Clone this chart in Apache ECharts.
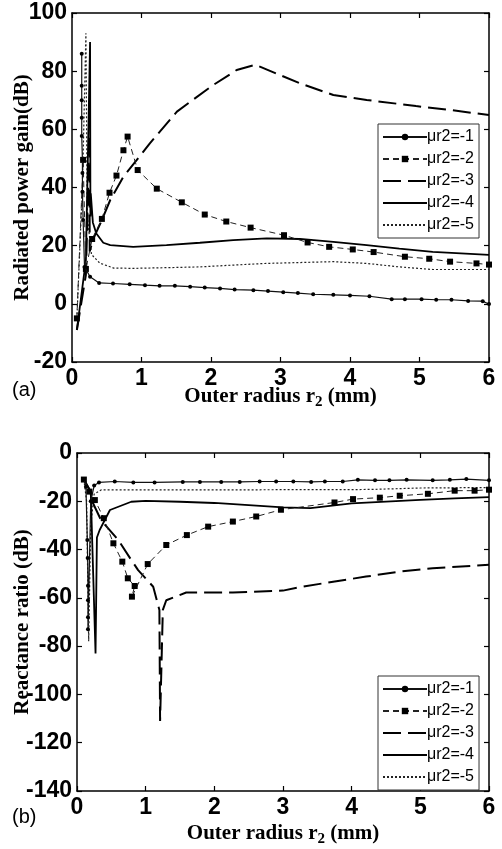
<!DOCTYPE html>
<html>
<head>
<meta charset="utf-8">
<script src="https://cdn.jsdelivr.net/npm/echarts@6/dist/echarts.min.js"></script>
<style>
    html, body { margin: 0; padding: 0; background: #fff; }
    #chart { width: 502px; height: 849px; }
</style>
</head>
<body>
<div id="chart"></div>
<script type="text/javascript">
    // series names
    var names = ['μr2=-1', 'μr2=-2', 'μr2=-3', 'μr2=-4', 'μr2=-5'];
    var xTicks = [0, 1, 2, 3, 4, 5, 6];

    // (a) radiated power gain (dB), [r2 mm, dB]
    var gain1 = [[0.14, 86], [0.14, 75], [0.14, 70], [0.14, 64], [0.14, 57.7], [0.15, 49.5], [0.15, 45], [0.15, 38.5],
        [0.16, 28.8], [0.18, 12.7], [0.26, 9.3], [0.39, 7.2], [0.59, 7.0], [0.83, 6.7], [1.05, 6.4], [1.26, 6.2],
        [1.48, 6.2], [1.70, 5.9], [1.91, 5.6], [2.13, 5.3], [2.34, 4.9], [2.61, 4.7], [2.82, 4.4], [3.04, 4.0],
        [3.25, 3.7], [3.47, 3.3], [3.76, 3.1], [4.0, 2.9], [4.28, 2.6], [4.6, 1.6], [4.79, 1.6], [5.03, 1.6],
        [5.24, 1.4], [5.46, 1.4], [5.70, 1.0], [5.91, 0.9], [6.0, -0.1]];
    var gain2 = [[0.07, -5], [0.16, 49.5], [0.2, 12], [0.29, 22.3], [0.43, 29.2], [0.54, 38.2], [0.64, 44.1],
        [0.74, 52.8], [0.80, 57.5], [0.945, 46], [1.22, 39.6], [1.58, 34.9], [1.91, 30.7], [2.22, 28.3],
        [2.57, 26.2], [3.05, 23.6], [3.39, 21.1], [3.70, 19.6], [4.04, 18.7], [4.34, 17.8], [4.79, 16.2],
        [5.14, 15.5], [5.44, 14.5], [5.82, 13.9], [6.0, 13.5]];
    var gain3 = [[0.07, -9], [0.2, 10], [0.25, 58], [0.255, 18], [0.3, 22], [0.43, 28.8], [0.55, 35.7],
        [0.74, 43.7], [1.0, 51.5], [1.12, 55.2], [1.51, 66.1], [2.03, 75.2], [2.37, 80.4], [2.64, 82.2],
        [3.28, 75.8], [3.76, 71.8], [4.24, 70.1], [4.95, 68], [5.43, 66.7], [6.0, 64.9]];
    var gain4 = [[0.07, -9], [0.2, 15], [0.26, 90], [0.265, 30], [0.27, 38], [0.3, 28], [0.35, 24.2],
        [0.45, 21], [0.55, 20.2], [0.88, 19.6], [1.36, 20.2], [1.84, 21], [2.32, 21.9], [2.80, 22.5],
        [3.28, 22.3], [3.76, 21.3], [4.24, 20.2], [4.71, 19], [5.19, 17.9], [6.0, 16.8]];
    var gain5 = [[0.07, -5], [0.15, 40], [0.2, 93], [0.22, 30], [0.28, 17], [0.4, 14], [0.6, 12.3],
        [0.88, 12.2], [1.3, 12.4], [1.84, 12.7], [2.3, 13.3], [2.8, 13.9], [3.28, 14.2], [3.76, 14.5],
        [4.24, 13.9], [4.71, 12.7], [5.19, 11.8], [6.0, 11.8]];

    // (b) reactance ratio (dB)
    var react1 = [[0.1, -11], [0.13, -14], [0.15, -36], [0.155, -43.5], [0.16, -55], [0.16, -61], [0.16, -68],
        [0.16, -73], [0.2, -20], [0.25, -13.5], [0.32, -12.2], [0.55, -11.8], [0.82, -12.2], [1.13, -12.2],
        [1.54, -12], [1.79, -12], [2.1, -12], [2.37, -12], [2.66, -11.8], [2.9, -11.8], [3.15, -11.8],
        [3.41, -12], [3.61, -11.8], [3.87, -11.8], [4.09, -11.1], [4.34, -11.3], [4.55, -11.3], [4.8, -11.1],
        [5.18, -11.3], [5.43, -11.1], [5.67, -10.8], [6.0, -11.3]];
    var react2 = [[0.1, -11], [0.18, -16], [0.26, -19.5], [0.39, -27], [0.53, -37.4], [0.66, -45],
        [0.74, -51.9], [0.84, -55.1], [0.80, -59.5], [1.03, -46], [1.30, -38.1], [1.60, -34], [1.91, -30.5],
        [2.27, -28.4], [2.61, -26.3], [2.97, -23.5], [3.75, -20.5], [4.02, -19.1], [4.41, -18.5],
        [4.70, -17.7], [5.11, -16.9], [5.50, -15.6], [5.79, -15.6], [6.0, -15.2]];
    var react3 = [[0.1, -11], [0.2, -16], [0.22, -20], [0.35, -27.8], [0.6, -36], [0.79, -44.3],
        [0.89, -48.5], [1.11, -55.4], [1.2, -65], [1.21, -111], [1.25, -65], [1.30, -61], [1.59, -57.8],
        [2.27, -57.8], [3.0, -57], [3.24, -55.6], [3.73, -53.3], [4.21, -51.2], [4.70, -49.1],
        [5.18, -47.7], [6.0, -46.3]];
    var react4 = [[0.1, -11], [0.2, -16], [0.27, -83], [0.29, -35], [0.33, -31.9], [0.48, -23.6],
        [0.79, -20.2], [1.0, -19.8], [1.5, -20.2], [2.0, -20.7], [2.5, -21.6], [3.0, -22.5], [3.4, -22.8],
        [4.0, -20.9], [4.5, -20.1], [5.0, -19.4], [5.5, -18.8], [6.0, -18.3]];
    var react5 = [[0.1, -11], [0.14, -20], [0.17, -78], [0.2, -30], [0.25, -17], [0.35, -15.3],
        [1.0, -15.3], [2.0, -15.3], [3.0, -15.2], [4.0, -15.2], [4.4, -15], [5.0, -14.5], [6.0, -14.3]];

    var gainData = [gain1, gain2, gain3, gain4, gain5];
    var reactData = [react1, react2, react3, react4, react5];

    var tickFont = {color: '#000', fontFamily: 'Liberation Sans, Arial', fontWeight: 'bold', fontSize: 23};
    var nameFont = {color: '#000', fontFamily: 'Liberation Serif, Times New Roman', fontWeight: 'bold', fontSize: 21};

    var lineStyles = [
        {type: 'solid', width: 1.2, color: '#111'},
        {type: [6, 4], width: 1, color: '#222'},
        {type: [18, 7], width: 2, color: '#000'},
        {type: 'solid', width: 1.8, color: '#000'},
        {type: [2, 2], width: 1.2, color: '#222'}
    ];
    var symbols = ['circle', 'rect', 'none', 'none', 'none'];
    var symbolSizes = [4, 6, 0, 0, 0];

    function makeX(gridIndex, top) {
        return {
            type: 'value', gridIndex: gridIndex, min: 0, max: 6, interval: 1,
            position: top ? 'top' : 'bottom',
            axisLine: {show: true, onZero: false, lineStyle: {color: '#000', width: 1.5}},
            axisTick: {show: true, inside: true, length: 5, lineStyle: {color: '#000', width: 1.2}},
            axisLabel: top ? {show: false} : Object.assign({margin: 5}, tickFont),
            splitLine: {show: false}
        };
    }
    function makeY(gridIndex, right, min, max) {
        return {
            type: 'value', gridIndex: gridIndex, min: min, max: max, interval: 20,
            position: right ? 'right' : 'left',
            axisLine: {show: true, onZero: false, lineStyle: {color: '#000', width: 1.5}},
            axisTick: {show: true, inside: true, length: 5, lineStyle: {color: '#000', width: 1.2}},
            axisLabel: right ? {show: false} : Object.assign({margin: 5}, tickFont),
            splitLine: {show: false}
        };
    }

    var xAxes = [makeX(0, false), makeX(0, true), makeX(1, false), makeX(1, true)];
    var yAxes = [makeY(0, false, -20, 100), makeY(0, true, -20, 100), makeY(1, false, -140, 0), makeY(1, true, -140, 0)];

    var xName = '{t|Outer radius r}{s|2}{t| (mm)}';
    var xRich = {
        t: nameFont,
        s: Object.assign({}, nameFont, {fontSize: 15, padding: [12, 0, 0, 0]})
    };
    xAxes[0].name = xName;
    xAxes[0].nameGap = 21;
    xAxes[2].name = xName;
    xAxes[2].nameGap = 29;
    [0, 2].forEach(function (i) {
        xAxes[i].nameLocation = 'middle';
        xAxes[i].nameMoveOverlap = false;
        xAxes[i].nameTextStyle = {rich: xRich};
    });
    yAxes[0].name = 'Radiated power gain(dB)';
    yAxes[0].nameGap = 39;
    yAxes[2].name = 'Reactance ratio (dB)';
    yAxes[2].nameGap = 44;
    [0, 2].forEach(function (i) {
        yAxes[i].nameLocation = 'middle';
        yAxes[i].nameMoveOverlap = false;
        yAxes[i].nameTextStyle = nameFont;
    });

    var series = [];
    function addSeries(dataList, xi, yi) {
        dataList.forEach(function (d, k) {
            series.push({
                name: names[k],
                type: 'line',
                xAxisIndex: xi,
                yAxisIndex: yi,
                data: d,
                symbol: symbols[k],
                symbolSize: symbolSizes[k],
                showSymbol: symbols[k] !== 'none',
                showAllSymbol: true,
                itemStyle: {color: '#000'},
                lineStyle: lineStyles[k],
                animation: false,
                z: 5 - k
            });
        });
    }
    addSeries(gainData, 0, 0);
    addSeries(reactData, 2, 2);

    // legend: plain line for the series without markers
    function makeLegend(left, top) {
        return {
            orient: 'vertical',
            left: left, top: top,
            data: names.map(function (n, k) {
                if (symbols[k] === 'none') {
                    return {name: n, itemStyle: {color: 'rgba(0,0,0,0)', borderColor: 'rgba(0,0,0,0)', borderWidth: 0}};
                }
                return {name: n};
            }),
            itemWidth: 44, itemHeight: 8, itemGap: 6,
            padding: [5, 5, 5, 4],
            borderColor: '#333', borderWidth: 1,
            backgroundColor: '#fff',
            textStyle: {color: '#000', fontFamily: 'Liberation Sans, Arial', fontSize: 16, padding: [0, 0, 0, -5]}
        };
    }

    var myChart = echarts.init(document.getElementById('chart'));
    var option = {
        backgroundColor: '#fff',
        animation: false,
        grid: [
            {left: 72, top: 13, width: 417, height: 349, show: false, containLabel: false, outerBoundsMode: 'none'},
            {left: 77, top: 453, width: 412, height: 338, show: false, containLabel: false, outerBoundsMode: 'none'}
        ],
        xAxis: xAxes,
        yAxis: yAxes,
        legend: [makeLegend(378, 124), makeLegend(378, 676)],
        graphic: [
            {type: 'text', left: 12, top: 380, style: {text: '(a)', fontFamily: 'Liberation Sans, Arial', fontSize: 20, fill: '#000'}},
            {type: 'text', left: 12, top: 807, style: {text: '(b)', fontFamily: 'Liberation Sans, Arial', fontSize: 20, fill: '#000'}}
        ],
        series: series
    };
    myChart.setOption(option);
</script>
</body>
</html>
